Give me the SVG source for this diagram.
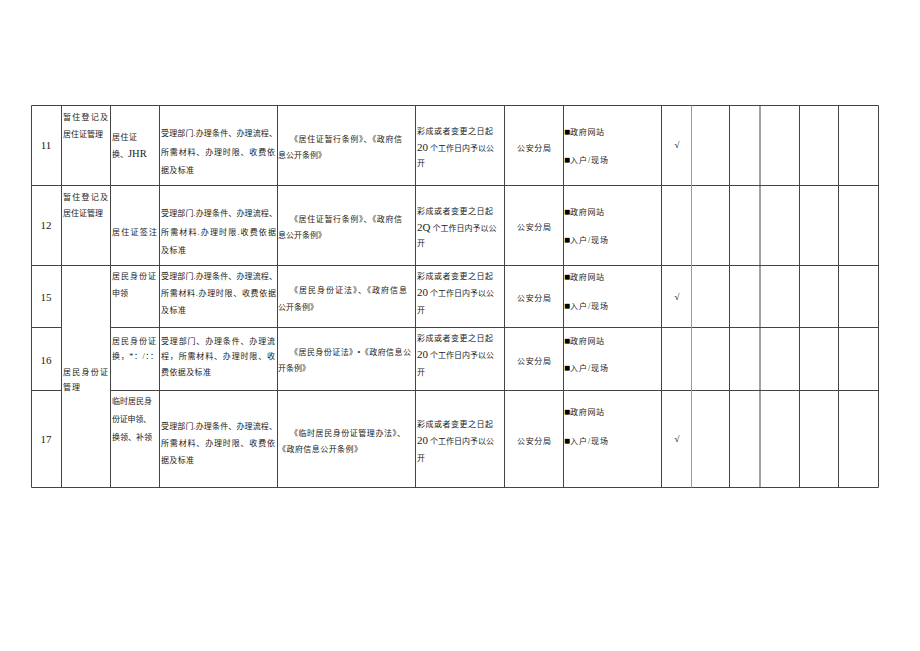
<svg xmlns="http://www.w3.org/2000/svg" width="920" height="651" viewBox="0 0 920 651">
<style>
.ln{stroke:#444;stroke-width:1;fill:none}
.lt{stroke:#999;stroke-width:1;fill:none}
text{font-family:"Liberation Serif","Noto Sans CJK SC",serif;fill:#222}
.c{font-size:8px}
.n{font-size:11px}
.m{text-anchor:middle}
.sq{font-size:10px;fill:#000}
.ck{font-size:9px;fill:#000}
</style>
<rect width="920" height="651" fill="#fff"/>
<g id="grid">
<line class="ln" x1="31.5" y1="105.5" x2="878.5" y2="105.5"/>
<line class="ln" x1="31.5" y1="185.5" x2="878.5" y2="185.5"/>
<line class="ln" x1="31.5" y1="265.5" x2="878.5" y2="265.5"/>
<line class="ln" x1="31.5" y1="327.5" x2="61.5" y2="327.5"/>
<line class="ln" x1="110.5" y1="327.5" x2="878.5" y2="327.5"/>
<line class="ln" x1="31.5" y1="390.5" x2="61.5" y2="390.5"/>
<line class="ln" x1="110.5" y1="390.5" x2="878.5" y2="390.5"/>
<line class="ln" x1="31.5" y1="487.5" x2="878.5" y2="487.5"/>
<line class="ln" x1="31.5" y1="105.5" x2="31.5" y2="487.5"/>
<line class="ln" x1="61.5" y1="105.5" x2="61.5" y2="487.5"/>
<line class="ln" x1="110.5" y1="105.5" x2="110.5" y2="487.5"/>
<line class="ln" x1="159.5" y1="105.5" x2="159.5" y2="487.5"/>
<line class="ln" x1="277.5" y1="105.5" x2="277.5" y2="487.5"/>
<line class="ln" x1="415.5" y1="105.5" x2="415.5" y2="487.5"/>
<line class="ln" x1="504.5" y1="105.5" x2="504.5" y2="487.5"/>
<line class="ln" x1="563.5" y1="105.5" x2="563.5" y2="487.5"/>
<line class="ln" x1="661.5" y1="105.5" x2="661.5" y2="487.5"/>
<line class="lt" x1="691.5" y1="105.5" x2="691.5" y2="487.5"/>
<line class="ln" x1="729.5" y1="105.5" x2="729.5" y2="487.5"/>
<line class="ln" x1="760" y1="105.5" x2="760" y2="487.5"/>
<line class="ln" x1="799.5" y1="105.5" x2="799.5" y2="487.5"/>
<line class="ln" x1="838.5" y1="105.5" x2="838.5" y2="487.5"/>
<line class="ln" x1="878.5" y1="105.5" x2="878.5" y2="487.5"/>
</g>
<g id="row11">
<text class="n m" x="46" y="149">11</text>
<text class="c" x="63" y="120" textLength="45">暂住登记及</text>
<text class="c" x="63" y="137" textLength="40">居住证管理</text>
<text class="c" x="112" y="140" textLength="25">居住证</text>
<text class="c" x="112" y="157">换、<tspan font-size="10.5">JHR</tspan></text>
<text class="c" x="161" y="136" textLength="116">受理部门.办理条件、办理流程、</text>
<text class="c" x="161" y="155" textLength="114">所需材料、办理时限、收费依</text>
<text class="c" x="161" y="173" textLength="33">据及标准</text>
<text class="c" x="290" y="142" textLength="112">《居住证暂行条例》、《政府信</text>
<text class="c" x="278" y="158" textLength="48">息公开条例》</text>
<text class="c" x="417" y="134" textLength="76">彩成或者变更之日起</text>
<text class="c" x="417" y="151"><tspan font-size="11">20</tspan> 个工作日内予以公</text>
<text class="c" x="417" y="166">开</text>
<text class="c m" x="534" y="151" textLength="34">公安分局</text>
<text class="c" x="564" y="135"><tspan class="sq">■</tspan><tspan textLength="34">政府网站</tspan></text>
<text class="c" x="564" y="163"><tspan class="sq">■</tspan><tspan textLength="38">入户/现场</tspan></text>
<text class="ck m" x="677" y="148">√</text>
</g>
<g id="row12">
<text class="n m" x="46" y="229">12</text>
<text class="c" x="63" y="200" textLength="45">暂住登记及</text>
<text class="c" x="63" y="216" textLength="40">居住证管理</text>
<text class="c" x="112" y="235" textLength="45">居住证签注</text>
<text class="c" x="161" y="216" textLength="116">受理部门.办理条件、办理流程、</text>
<text class="c" x="161" y="235" textLength="115">所需材料.办理时限.收费依据</text>
<text class="c" x="161" y="253" textLength="25">及标准</text>
<text class="c" x="290" y="222" textLength="112">《居住证暂行条例》、《政府信</text>
<text class="c" x="278" y="238" textLength="48">息公开条例》</text>
<text class="c" x="417" y="214" textLength="76">彩成或者变更之日起</text>
<text class="c" x="417" y="231"><tspan font-size="11">2Q</tspan> 个工作日内予以公</text>
<text class="c" x="417" y="246">开</text>
<text class="c m" x="534" y="230" textLength="34">公安分局</text>
<text class="c" x="564" y="215"><tspan class="sq">■</tspan><tspan textLength="34">政府网站</tspan></text>
<text class="c" x="564" y="243"><tspan class="sq">■</tspan><tspan textLength="38">入户/现场</tspan></text>
</g>
<g id="cat15">
<text class="c" x="63" y="375" textLength="45">居民身份证</text>
<text class="c" x="63" y="390" textLength="17">管理</text>
</g>
<g id="row15">
<text class="n m" x="46" y="301">15</text>
<text class="c" x="112" y="279" textLength="44">居民身份证</text>
<text class="c" x="112" y="296" textLength="16">申领</text>
<text class="c" x="161" y="279" textLength="116">受理部门.办理条件、办理流程、</text>
<text class="c" x="161" y="296" textLength="115">所需材料.办理时限、收费依据</text>
<text class="c" x="161" y="313" textLength="25">及标准</text>
<text class="c" x="290" y="293" textLength="117">《居民身份证法》、《政府信息</text>
<text class="c" x="278" y="310" textLength="40">公开条例》</text>
<text class="c" x="417" y="279" textLength="76">彩成或者变更之日起</text>
<text class="c" x="417" y="296"><tspan font-size="11">20</tspan> 个工作日内予以公</text>
<text class="c" x="417" y="313">开</text>
<text class="c m" x="534" y="301" textLength="34">公安分局</text>
<text class="c" x="564" y="280"><tspan class="sq">■</tspan><tspan textLength="34">政府网站</tspan></text>
<text class="c" x="564" y="309"><tspan class="sq">■</tspan><tspan textLength="38">入户/现场</tspan></text>
<text class="ck m" x="677" y="300">√</text>
</g>
<g id="row16">
<text class="n m" x="46" y="364">16</text>
<text class="c" x="112" y="344" textLength="44">居民身份证</text>
<text class="c" x="112" y="359" textLength="46">换，*：/：：</text>
<text class="c" x="161" y="344" textLength="114">受理部门、办理条件、办理流</text>
<text class="c" x="161" y="359" textLength="114">程，所需材料、办理时限、收</text>
<text class="c" x="161" y="375" textLength="50">费依据及标准</text>
<text class="c" x="290" y="355" textLength="121">《居民身份证法》•《政府信息公</text>
<text class="c" x="278" y="371" textLength="32">开条例》</text>
<text class="c" x="417" y="341" textLength="76">彩成或者变更之日起</text>
<text class="c" x="417" y="358"><tspan font-size="11">20</tspan> 个工作日内予以公</text>
<text class="c" x="417" y="375">开</text>
<text class="c m" x="534" y="364" textLength="34">公安分局</text>
<text class="c" x="564" y="344"><tspan class="sq">■</tspan><tspan textLength="34">政府网站</tspan></text>
<text class="c" x="564" y="371"><tspan class="sq">■</tspan><tspan textLength="38">入户/现场</tspan></text>
</g>
<g id="row17">
<text class="n m" x="46" y="443">17</text>
<text class="c" x="112" y="404" textLength="40">临时居民身</text>
<text class="c" x="112" y="422" textLength="39">份证申领、</text>
<text class="c" x="112" y="440" textLength="40">换领、补领</text>
<text class="c" x="161" y="429" textLength="116">受理部门.办理条件、办理流程、</text>
<text class="c" x="161" y="446" textLength="114">所需材料、办理时限、收费依</text>
<text class="c" x="161" y="463" textLength="33">据及标准</text>
<text class="c" x="290" y="436" textLength="115">《临时居民身份证管理办法》、</text>
<text class="c" x="278" y="452" textLength="84">《政府信息公开条例》</text>
<text class="c" x="417" y="427" textLength="76">彩成或者变更之日起</text>
<text class="c" x="417" y="444"><tspan font-size="11">20</tspan> 个工作日内予以公</text>
<text class="c" x="417" y="461">开</text>
<text class="c m" x="534" y="444" textLength="34">公安分局</text>
<text class="c" x="564" y="415"><tspan class="sq">■</tspan><tspan textLength="34">政府网站</tspan></text>
<text class="c" x="564" y="444"><tspan class="sq">■</tspan><tspan textLength="38">入户/现场</tspan></text>
<text class="ck m" x="677" y="442">√</text>
</g>
</svg>
